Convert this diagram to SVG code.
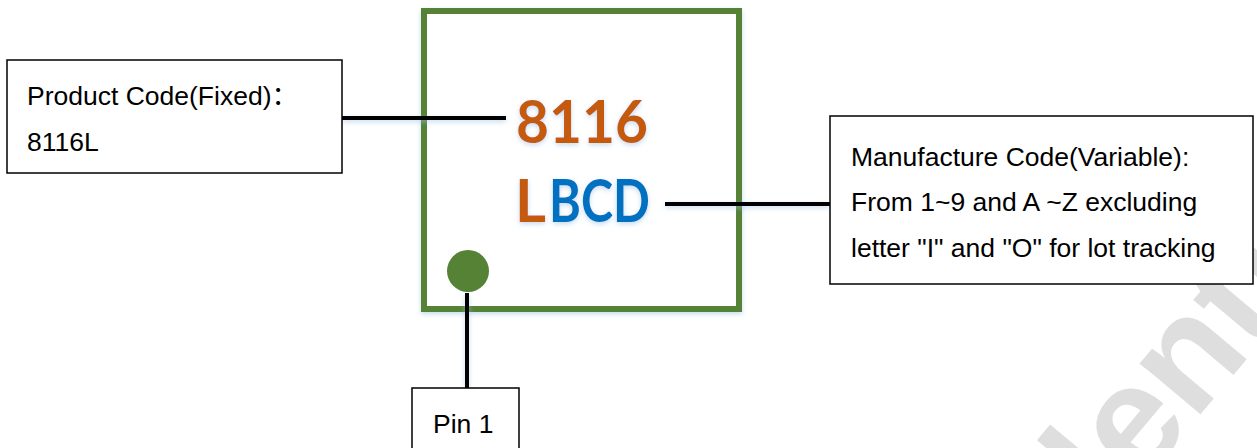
<svg xmlns="http://www.w3.org/2000/svg" width="1257" height="448" viewBox="0 0 1257 448">
  <defs>
    <filter id="glow" x="-10%" y="-10%" width="120%" height="120%">
      <feDropShadow dx="0" dy="2" stdDeviation="2.5" flood-color="#9dc3e6" flood-opacity="0.6"/>
    </filter>
    <style>
      .box { fill: #ffffff; stroke: #000000; stroke-width: 1.5; }
      .lbl { font-family: "Liberation Sans", Arial, sans-serif; font-size: 26.5px; fill: #000000; }
      .wire { stroke: #000000; stroke-width: 4; fill: none; }
      .mark { font-family: Lato, "Open Sans", sans-serif; font-weight: bold; font-size: 60px; }
      .wm { font-family: "Liberation Sans", Arial, sans-serif; font-weight: bold; font-size: 150px; fill: #dedede; }
    </style>
  </defs>
  <rect width="1257" height="448" fill="#ffffff"/>

  <text class="wm" x="835" y="850" transform="rotate(-50 835 850)">Confidential</text>

  <g id="chip" filter="url(#glow)">
    <rect x="424" y="11" width="315" height="298" fill="#ffffff" stroke="#548235" stroke-width="6"/>
    <circle cx="468" cy="271" r="21" fill="#548235"/>
  </g>

  <g id="connectors" filter="url(#glow)">
    <line class="wire" x1="342" y1="118" x2="506" y2="118"/>
    <line class="wire" x1="665" y1="204" x2="830" y2="204"/>
    <line class="wire" x1="467" y1="293" x2="467" y2="388"/>
  </g>

  <g id="marking" filter="url(#glow)">
    <text class="mark" x="516" y="143" fill="#C55A11" textLength="132" lengthAdjust="spacingAndGlyphs">8116</text>
    <text class="mark" x="515" y="222" fill="#C55A11" textLength="31" lengthAdjust="spacingAndGlyphs">L</text>
    <text class="mark" x="549" y="222" fill="#0070C0" textLength="101" lengthAdjust="spacingAndGlyphs">BCD</text>
  </g>

  <g id="product-code">
    <rect class="box" x="7" y="60" width="335" height="113"/>
    <text class="lbl" x="27" y="105">Product Code(Fixed)<tspan font-family="Noto Sans CJK SC, sans-serif" font-weight="normal">：</tspan></text>
    <text class="lbl" x="27" y="151">8116L</text>
  </g>

  <g id="manufacture-code">
    <rect class="box" x="830" y="116" width="423" height="168"/>
    <text class="lbl" x="851" y="166">Manufacture Code(Variable):</text>
    <text class="lbl" x="851" y="211">From 1~9 and A ~Z excluding</text>
    <text class="lbl" x="851" y="257">letter "I" and "O" for lot tracking</text>
  </g>

  <g id="pin1">
    <rect class="box" x="412" y="388" width="107" height="80"/>
    <text class="lbl" x="433" y="433">Pin 1</text>
  </g>
</svg>
